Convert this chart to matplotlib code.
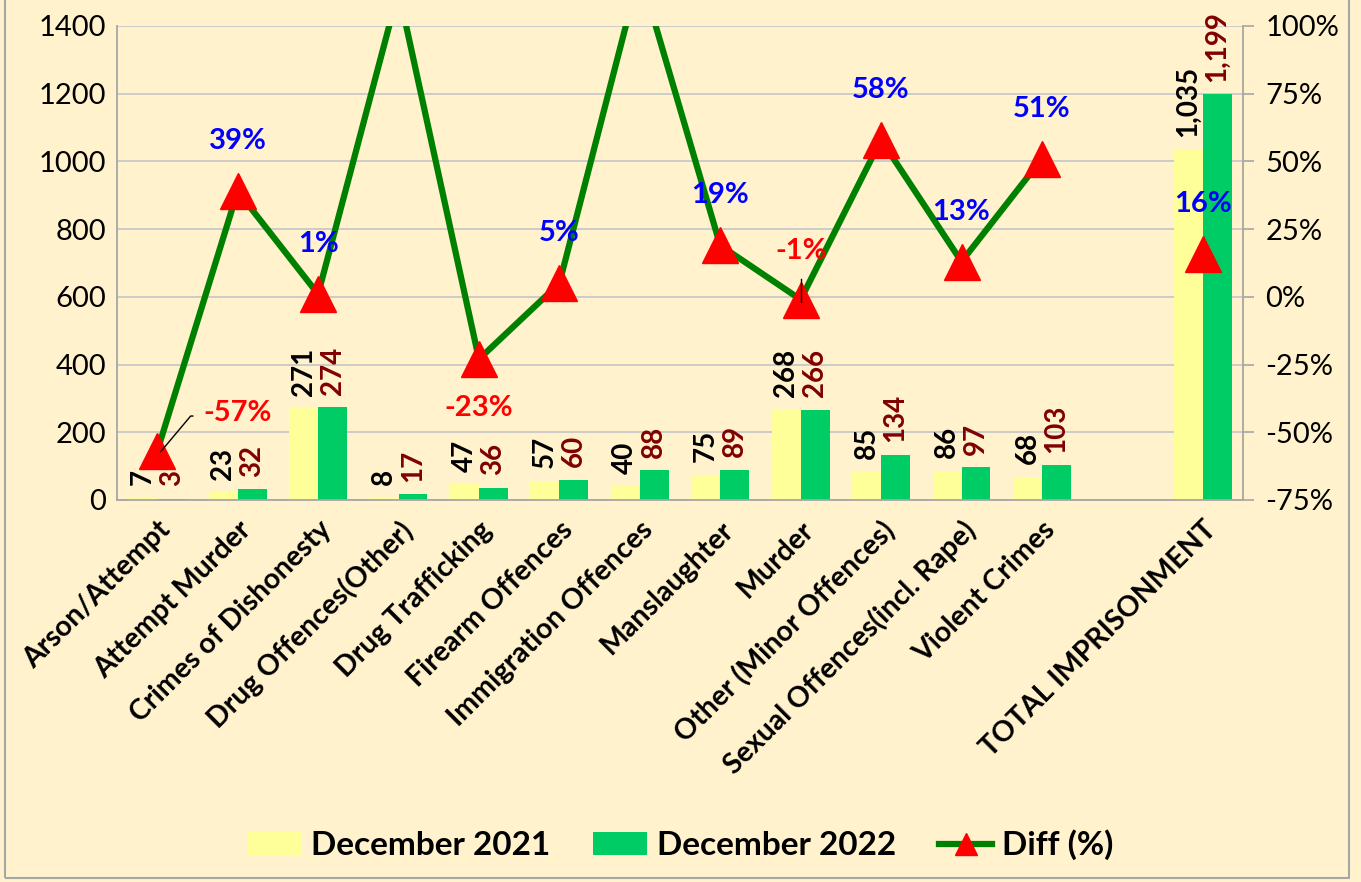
import numpy as np
import matplotlib
matplotlib.use("Agg")
import matplotlib.pyplot as plt
from matplotlib.patches import Rectangle
from matplotlib.lines import Line2D
from matplotlib.patches import Patch

plt.rcParams['font.family'] = ['Lato', 'DejaVu Sans']

categories = ["Arson/Attempt", "Attempt Murder", "Crimes of Dishonesty",
              "Drug Offences(Other)", "Drug Trafficking", "Firearm Offences",
              "Immigration Offences", "Manslaughter", "Murder",
              "Other (Minor Offences)", "Sexual Offences(incl. Rape)",
              "Violent Crimes", "", "TOTAL IMPRISONMENT"]
dec2021 = [7, 23, 271, 8, 47, 57, 40, 75, 268, 85, 86, 68, None, 1035]
dec2022 = [3, 32, 274, 17, 36, 60, 88, 89, 266, 134, 97, 103, None, 1199]
diff_pct = [-57, 39, 1, 113, -23, 5, 120, 19, -1, 58, 13, 51, None, 16]
diff_labels = ["-57%", "39%", "1%", "", "-23%", "5%", "", "19%", "-1%",
               "58%", "13%", "51%", "", "16%"]
lab2021 = ["7", "23", "271", "8", "47", "57", "40", "75", "268", "85", "86", "68", "", "1,035"]
lab2022 = ["3", "32", "274", "17", "36", "60", "88", "89", "266", "134", "97", "103", "", "1,199"]

BG = "#FFF2CC"
fig = plt.figure(figsize=(13.61, 8.82), dpi=100, facecolor=BG)
ax = fig.add_axes([117/1361, 1-500/882, (1243-117)/1361, (500-26)/882])
ax.set_facecolor(BG)
ax2 = ax.twinx()

n = len(categories)
x = np.arange(n)
w = 0.36
y1 = np.array([np.nan if v is None else v for v in dec2021], dtype=float)
y2 = np.array([np.nan if v is None else v for v in dec2022], dtype=float)
ax.bar(x - w/2, y1, w, color="#FFFF99", zorder=2)
ax.bar(x + w/2, y2, w, color="#00CC66", zorder=2)

ax.set_xlim(-0.5, n - 0.5)
ax.set_ylim(0, 1400)
ax.set_yticks(np.arange(0, 1401, 200))
ax.tick_params(axis='y', labelsize=21, length=0, pad=8)
ax.yaxis.grid(True, color="#C8C8C8", lw=1.3, zorder=0)
ax.set_axisbelow(True)
for s in ["top", "right"]:
    ax.spines[s].set_visible(False)
ax.spines["left"].set_color("#A6A6A6")
ax.spines["bottom"].set_color("#A6A6A6")
ax.spines["left"].set_linewidth(1.3)
ax.spines["bottom"].set_linewidth(1.3)

ticks = [i for i in range(n) if categories[i]]
ax.set_xticks(ticks)
ax.set_xticklabels([categories[i] for i in ticks], rotation=45, ha="right",
                   rotation_mode="anchor", fontsize=20.5, fontweight="bold")
ax.tick_params(axis='x', length=0, pad=12)

# bar value labels
for i in range(n):
    if lab2021[i]:
        ax.annotate(lab2021[i], (x[i] - w/2, y1[i]), xytext=(0, 9), textcoords="offset points",
                    rotation=90, ha="center", va="bottom", fontsize=20, fontweight="bold",
                    color="black", zorder=5)
    if lab2022[i]:
        ax.annotate(lab2022[i], (x[i] + w/2, y2[i]), xytext=(0, 9), textcoords="offset points",
                    rotation=90, ha="center", va="bottom", fontsize=20, fontweight="bold",
                    color="#800000", zorder=5)

# diff line
d = np.array([np.nan if v is None else v for v in diff_pct], dtype=float)
ax2.plot(x, d, color="#008000", lw=4.5, marker="^", markersize=26,
         markerfacecolor="#FF0000", markeredgecolor="#FF0000", zorder=4)
ax2.set_ylim(-75, 100)
ax2.set_yticks(np.arange(-75, 101, 25))
ax2.set_yticklabels([f"{v}%" for v in range(-75, 101, 25)])
ax2.tick_params(axis='y', labelsize=21, length=8, width=1.2, color="#A6A6A6", pad=8)
for s in ["top", "left", "bottom"]:
    ax2.spines[s].set_visible(False)
ax2.spines["right"].set_color("#A6A6A6")
ax2.spines["right"].set_linewidth(1.3)

FS_P = 21
for i in range(n):
    lbl = diff_labels[i]
    if not lbl:
        continue
    col = "#FF0000" if d[i] < 0 else "#0000FF"
    if i == 0:
        ax2.annotate(lbl, (x[i], d[i]), xytext=(x[i] + 1.0, d[i] + 14), textcoords="data",
                     ha="center", va="center", fontsize=FS_P, fontweight="bold", color=col,
                     zorder=6)
        ax2.annotate("", (x[i] + 0.02, d[i] - 1), xytext=(x[i] + 0.48, d[i] + 13),
                     arrowprops=dict(arrowstyle="-", color="black", lw=1,
                                     connectionstyle="angle,angleA=0,angleB=50,rad=0"),
                     zorder=6)
    elif i == 4:
        ax2.annotate(lbl, (x[i], d[i]), xytext=(0, -35), textcoords="offset points",
                     ha="center", va="center", fontsize=FS_P, fontweight="bold", color=col, zorder=6)
    elif i == 8:
        ax2.annotate(lbl, (x[i], d[i]), xytext=(0, 35), textcoords="offset points",
                     ha="center", va="center", fontsize=FS_P, fontweight="bold", color=col, zorder=6)
        ax2.plot([x[i], x[i]], [d[i] - 1, d[i] + 7.5], color="black", lw=1, zorder=6)
    else:
        ax2.annotate(lbl, (x[i], d[i]), xytext=(0, 36), textcoords="offset points",
                     ha="center", va="center", fontsize=FS_P, fontweight="bold", color=col, zorder=6)

handles = [Patch(facecolor="#FFFF99", label="December 2021"),
           Patch(facecolor="#00CC66", label="December 2022"),
           Line2D([0], [0], color="#008000", lw=4.5, marker="^", markersize=16,
                  markerfacecolor="#FF0000", markeredgecolor="#FF0000", label="Diff (%)")]
fig.legend(handles=handles, loc="center", bbox_to_anchor=(0.5, 1-845/882), ncol=3,
           frameon=False, prop=dict(size=24, weight="bold"), handlelength=1.6,
           handleheight=0.7, columnspacing=1.3, handletextpad=0.3)

fig.patches.append(Rectangle((5/1361, 4/882), 1344/1361, 900/882, transform=fig.transFigure,
                             fill=False, edgecolor="#A6A6A6", lw=1.5))

fig.savefig("out.png", dpi=100, facecolor=BG)
